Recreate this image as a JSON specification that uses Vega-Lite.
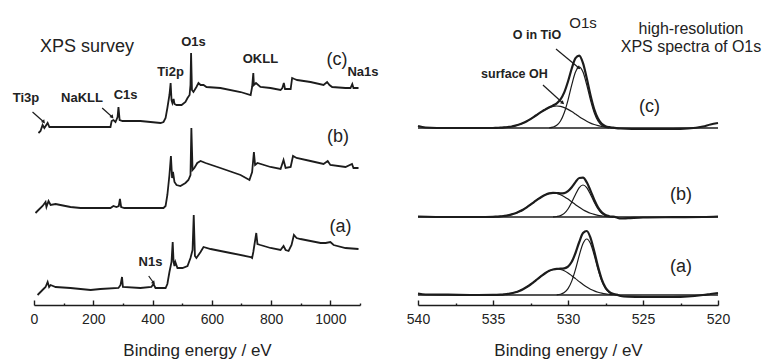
{
"$schema": "https://vega.github.io/schema/vega-lite/v6.json",
"padding": {"left": 12, "top": 5, "right": 5, "bottom": 2},
"config": {"view": {"stroke": null}, "font": "Liberation Sans"},
"bounds": "flush",
"spacing": 58,
"datasets": {
"survey": [
{"s":"c","e":15,"v":172},{"s":"c","e":22,"v":174},{"s":"c","e":29,"v":180},{"s":"c","e":35,"v":177},{"s":"c","e":46,"v":182},{"s":"c","e":52,"v":178},{"s":"c","e":66,"v":178},{"s":"c","e":157,"v":178},{"s":"c","e":224,"v":178},{"s":"c","e":258,"v":178},{"s":"c","e":262,"v":184},{"s":"c","e":268,"v":185},{"s":"c","e":275,"v":183},{"s":"c","e":282,"v":188},{"s":"c","e":285,"v":198},{"s":"c","e":289,"v":185},{"s":"c","e":299,"v":184},{"s":"c","e":359,"v":184},{"s":"c","e":427,"v":182},{"s":"c","e":437,"v":183},{"s":"c","e":444,"v":187},{"s":"c","e":450,"v":197},{"s":"c","e":457,"v":210},{"s":"c","e":461,"v":222},{"s":"c","e":464,"v":205},{"s":"c","e":467,"v":202},{"s":"c","e":471,"v":206},{"s":"c","e":474,"v":201},{"s":"c","e":481,"v":200},{"s":"c","e":498,"v":200},{"s":"c","e":511,"v":203},{"s":"c","e":518,"v":207},{"s":"c","e":525,"v":210},{"s":"c","e":528,"v":220},{"s":"c","e":530,"v":252},{"s":"c","e":533,"v":215},{"s":"c","e":538,"v":213},{"s":"c","e":548,"v":218},{"s":"c","e":555,"v":222},{"s":"c","e":562,"v":220},{"s":"c","e":572,"v":220},{"s":"c","e":582,"v":218},{"s":"c","e":629,"v":217},{"s":"c","e":697,"v":213},{"s":"c","e":731,"v":210},{"s":"c","e":736,"v":218},{"s":"c","e":740,"v":232},{"s":"c","e":742,"v":220},{"s":"c","e":749,"v":222},{"s":"c","e":764,"v":218},{"s":"c","e":798,"v":217},{"s":"c","e":832,"v":215},{"s":"c","e":838,"v":217},{"s":"c","e":843,"v":222},{"s":"c","e":847,"v":216},{"s":"c","e":866,"v":216},{"s":"c","e":871,"v":227},{"s":"c","e":879,"v":226},{"s":"c","e":888,"v":225},{"s":"c","e":933,"v":223},{"s":"c","e":977,"v":220},{"s":"c","e":989,"v":223},{"s":"c","e":997,"v":220},{"s":"c","e":1006,"v":218},{"s":"c","e":1051,"v":217},{"s":"c","e":1068,"v":217},{"s":"c","e":1074,"v":221},{"s":"c","e":1078,"v":217},{"s":"c","e":1095,"v":217},
{"s":"b","e":5,"v":92},{"s":"b","e":15,"v":95},{"s":"b","e":29,"v":99},{"s":"b","e":39,"v":103},{"s":"b","e":42,"v":98},{"s":"b","e":49,"v":104},{"s":"b","e":56,"v":100},{"s":"b","e":73,"v":101},{"s":"b","e":89,"v":100},{"s":"b","e":123,"v":98},{"s":"b","e":157,"v":97},{"s":"b","e":258,"v":97},{"s":"b","e":268,"v":99},{"s":"b","e":278,"v":98},{"s":"b","e":286,"v":99},{"s":"b","e":290,"v":106},{"s":"b","e":294,"v":98},{"s":"b","e":305,"v":97},{"s":"b","e":437,"v":97},{"s":"b","e":444,"v":99},{"s":"b","e":450,"v":110},{"s":"b","e":457,"v":130},{"s":"b","e":462,"v":149},{"s":"b","e":466,"v":127},{"s":"b","e":469,"v":133},{"s":"b","e":474,"v":123},{"s":"b","e":481,"v":120},{"s":"b","e":494,"v":119},{"s":"b","e":511,"v":122},{"s":"b","e":521,"v":125},{"s":"b","e":528,"v":130},{"s":"b","e":531,"v":177},{"s":"b","e":535,"v":135},{"s":"b","e":541,"v":137},{"s":"b","e":551,"v":142},{"s":"b","e":562,"v":144},{"s":"b","e":579,"v":142},{"s":"b","e":629,"v":137},{"s":"b","e":697,"v":130},{"s":"b","e":727,"v":125},{"s":"b","e":736,"v":133},{"s":"b","e":742,"v":153},{"s":"b","e":746,"v":140},{"s":"b","e":754,"v":142},{"s":"b","e":798,"v":138},{"s":"b","e":832,"v":136},{"s":"b","e":842,"v":145},{"s":"b","e":849,"v":137},{"s":"b","e":866,"v":138},{"s":"b","e":874,"v":149},{"s":"b","e":886,"v":147},{"s":"b","e":933,"v":144},{"s":"b","e":977,"v":141},{"s":"b","e":991,"v":144},{"s":"b","e":1000,"v":140},{"s":"b","e":1051,"v":138},{"s":"b","e":1073,"v":141},{"s":"b","e":1078,"v":137},{"s":"b","e":1095,"v":137},
{"s":"a","e":12,"v":10},{"s":"a","e":22,"v":13},{"s":"a","e":32,"v":16},{"s":"a","e":39,"v":18},{"s":"a","e":46,"v":23},{"s":"a","e":51,"v":18},{"s":"a","e":56,"v":20},{"s":"a","e":73,"v":18},{"s":"a","e":123,"v":17},{"s":"a","e":191,"v":15},{"s":"a","e":224,"v":16},{"s":"a","e":285,"v":17},{"s":"a","e":292,"v":20},{"s":"a","e":297,"v":28},{"s":"a","e":300,"v":18},{"s":"a","e":359,"v":17},{"s":"a","e":396,"v":18},{"s":"a","e":403,"v":21},{"s":"a","e":410,"v":17},{"s":"a","e":444,"v":17},{"s":"a","e":450,"v":21},{"s":"a","e":457,"v":33},{"s":"a","e":464,"v":43},{"s":"a","e":468,"v":63},{"s":"a","e":471,"v":43},{"s":"a","e":474,"v":39},{"s":"a","e":477,"v":43},{"s":"a","e":484,"v":37},{"s":"a","e":501,"v":37},{"s":"a","e":518,"v":39},{"s":"a","e":528,"v":47},{"s":"a","e":535,"v":55},{"s":"a","e":539,"v":90},{"s":"a","e":543,"v":49},{"s":"a","e":548,"v":47},{"s":"a","e":562,"v":53},{"s":"a","e":572,"v":58},{"s":"a","e":596,"v":56},{"s":"a","e":663,"v":52},{"s":"a","e":731,"v":48},{"s":"a","e":736,"v":47},{"s":"a","e":740,"v":53},{"s":"a","e":750,"v":72},{"s":"a","e":754,"v":61},{"s":"a","e":764,"v":60},{"s":"a","e":798,"v":57},{"s":"a","e":832,"v":55},{"s":"a","e":842,"v":59},{"s":"a","e":849,"v":55},{"s":"a","e":859,"v":54},{"s":"a","e":869,"v":60},{"s":"a","e":877,"v":70},{"s":"a","e":886,"v":67},{"s":"a","e":899,"v":66},{"s":"a","e":967,"v":62},{"s":"a","e":984,"v":62},{"s":"a","e":1000,"v":63},{"s":"a","e":1011,"v":60},{"s":"a","e":1051,"v":57},{"s":"a","e":1095,"v":56}
],
"hr": [
{"s":"c","c":"bg","e":540,"v":177},{"s":"c","c":"bg","e":520,"v":177},
{"s":"b","c":"bg","e":540,"v":88},{"s":"b","c":"bg","e":520,"v":88},
{"s":"a","c":"bg","e":540,"v":10},{"s":"a","c":"bg","e":520,"v":10},
{"s":"c","c":"env","e":540,"v":179},{"s":"c","c":"env","e":539.5,"v":177.5},{"s":"c","c":"env","e":538,"v":177},{"s":"c","c":"env","e":536,"v":177},{"s":"c","c":"env","e":535,"v":177},{"s":"c","c":"env","e":534.75,"v":177.2},{"s":"c","c":"env","e":534.5,"v":177.3},{"s":"c","c":"env","e":534.25,"v":177.6},{"s":"c","c":"env","e":534,"v":178},{"s":"c","c":"env","e":533.75,"v":178.5},{"s":"c","c":"env","e":533.5,"v":179.4},{"s":"c","c":"env","e":533.25,"v":180.5},{"s":"c","c":"env","e":533,"v":181.9},{"s":"c","c":"env","e":532.75,"v":183.7},{"s":"c","c":"env","e":532.5,"v":185.9},{"s":"c","c":"env","e":532.25,"v":188.3},{"s":"c","c":"env","e":532,"v":190.9},{"s":"c","c":"env","e":531.75,"v":193.4},{"s":"c","c":"env","e":531.5,"v":195.6},{"s":"c","c":"env","e":531.25,"v":197.7},{"s":"c","c":"env","e":531,"v":199.5},{"s":"c","c":"env","e":530.75,"v":201.7},{"s":"c","c":"env","e":530.5,"v":205.6},{"s":"c","c":"env","e":530.25,"v":212.6},{"s":"c","c":"env","e":530,"v":223.5},{"s":"c","c":"env","e":529.75,"v":236.5},{"s":"c","c":"env","e":529.5,"v":246.8},{"s":"c","c":"env","e":529.25,"v":249.3},{"s":"c","c":"env","e":529,"v":241.8},{"s":"c","c":"env","e":528.75,"v":226.8},{"s":"c","c":"env","e":528.5,"v":209.8},{"s":"c","c":"env","e":528.25,"v":195.7},{"s":"c","c":"env","e":528,"v":186.4},{"s":"c","c":"env","e":527.75,"v":181.2},{"s":"c","c":"env","e":527.5,"v":178.8},{"s":"c","c":"env","e":527.25,"v":177.8},{"s":"c","c":"env","e":527,"v":177.3},{"s":"c","c":"env","e":526.5,"v":176.5},{"s":"c","c":"env","e":525,"v":176},{"s":"c","c":"env","e":523,"v":176},{"s":"c","c":"env","e":522,"v":176.5},{"s":"c","c":"env","e":521,"v":178.5},{"s":"c","c":"env","e":520.5,"v":180.5},{"s":"c","c":"env","e":520,"v":182},
{"s":"c","c":"OH","e":534.75,"v":177.2},{"s":"c","c":"OH","e":534.5,"v":177.3},{"s":"c","c":"OH","e":534.25,"v":177.6},{"s":"c","c":"OH","e":534,"v":178},{"s":"c","c":"OH","e":533.75,"v":178.5},{"s":"c","c":"OH","e":533.5,"v":179.4},{"s":"c","c":"OH","e":533.25,"v":180.5},{"s":"c","c":"OH","e":533,"v":181.9},{"s":"c","c":"OH","e":532.75,"v":183.7},{"s":"c","c":"OH","e":532.5,"v":185.9},{"s":"c","c":"OH","e":532.25,"v":188.3},{"s":"c","c":"OH","e":532,"v":190.9},{"s":"c","c":"OH","e":531.75,"v":193.4},{"s":"c","c":"OH","e":531.5,"v":195.6},{"s":"c","c":"OH","e":531.25,"v":197.4},{"s":"c","c":"OH","e":531,"v":198.6},{"s":"c","c":"OH","e":530.75,"v":199},{"s":"c","c":"OH","e":530.5,"v":198.6},{"s":"c","c":"OH","e":530.25,"v":197.4},{"s":"c","c":"OH","e":530,"v":195.6},{"s":"c","c":"OH","e":529.75,"v":193.4},{"s":"c","c":"OH","e":529.5,"v":190.9},{"s":"c","c":"OH","e":529.25,"v":188.3},{"s":"c","c":"OH","e":529,"v":185.9},{"s":"c","c":"OH","e":528.75,"v":183.7},{"s":"c","c":"OH","e":528.5,"v":181.9},{"s":"c","c":"OH","e":528.25,"v":180.5},{"s":"c","c":"OH","e":528,"v":179.4},{"s":"c","c":"OH","e":527.75,"v":178.5},{"s":"c","c":"OH","e":527.5,"v":178},{"s":"c","c":"OH","e":527.25,"v":177.6},{"s":"c","c":"OH","e":527,"v":177.3},{"s":"c","c":"OH","e":526.75,"v":177.2},
{"s":"c","c":"TiO","e":531.25,"v":177.2},{"s":"c","c":"TiO","e":531,"v":177.9},{"s":"c","c":"TiO","e":530.75,"v":179.7},{"s":"c","c":"TiO","e":530.5,"v":184},{"s":"c","c":"TiO","e":530.25,"v":192.2},{"s":"c","c":"TiO","e":530,"v":204.9},{"s":"c","c":"TiO","e":529.75,"v":220.1},{"s":"c","c":"TiO","e":529.5,"v":232.9},{"s":"c","c":"TiO","e":529.25,"v":238},{"s":"c","c":"TiO","e":529,"v":232.9},{"s":"c","c":"TiO","e":528.75,"v":220.1},{"s":"c","c":"TiO","e":528.5,"v":204.9},{"s":"c","c":"TiO","e":528.25,"v":192.2},{"s":"c","c":"TiO","e":528,"v":184},{"s":"c","c":"TiO","e":527.75,"v":179.7},{"s":"c","c":"TiO","e":527.5,"v":177.9},{"s":"c","c":"TiO","e":527.25,"v":177.2},
{"s":"b","c":"env","e":540,"v":88.5},{"s":"b","c":"env","e":538,"v":88},{"s":"b","c":"env","e":536,"v":88},{"s":"b","c":"env","e":535,"v":88.2},{"s":"b","c":"env","e":534.75,"v":88.4},{"s":"b","c":"env","e":534.5,"v":88.6},{"s":"b","c":"env","e":534.25,"v":89.1},{"s":"b","c":"env","e":534,"v":89.7},{"s":"b","c":"env","e":533.75,"v":90.6},{"s":"b","c":"env","e":533.5,"v":91.8},{"s":"b","c":"env","e":533.25,"v":93.4},{"s":"b","c":"env","e":533,"v":95.3},{"s":"b","c":"env","e":532.75,"v":97.7},{"s":"b","c":"env","e":532.5,"v":100.3},{"s":"b","c":"env","e":532.25,"v":103.1},{"s":"b","c":"env","e":532,"v":105.9},{"s":"b","c":"env","e":531.75,"v":108.3},{"s":"b","c":"env","e":531.5,"v":110.3},{"s":"b","c":"env","e":531.25,"v":111.6},{"s":"b","c":"env","e":531,"v":112.1},{"s":"b","c":"env","e":530.75,"v":112},{"s":"b","c":"env","e":530.5,"v":111.7},{"s":"b","c":"env","e":530.25,"v":111.9},{"s":"b","c":"env","e":530,"v":113.9},{"s":"b","c":"env","e":529.75,"v":117.8},{"s":"b","c":"env","e":529.5,"v":122.9},{"s":"b","c":"env","e":529.25,"v":127},{"s":"b","c":"env","e":529,"v":127.3},{"s":"b","c":"env","e":528.75,"v":122.7},{"s":"b","c":"env","e":528.5,"v":114.4},{"s":"b","c":"env","e":528.25,"v":105.3},{"s":"b","c":"env","e":528,"v":97.7},{"s":"b","c":"env","e":527.75,"v":92.7},{"s":"b","c":"env","e":527.5,"v":90},{"s":"b","c":"env","e":527.25,"v":88.8},{"s":"b","c":"env","e":527,"v":88.3},{"s":"b","c":"env","e":526.75,"v":87.5},{"s":"b","c":"env","e":526.5,"v":86.5},{"s":"b","c":"env","e":526,"v":86.8},{"s":"b","c":"env","e":525,"v":87.5},{"s":"b","c":"env","e":523,"v":87.8},{"s":"b","c":"env","e":521,"v":88},{"s":"b","c":"env","e":520,"v":88.5},
{"s":"b","c":"OH","e":535,"v":88.2},{"s":"b","c":"OH","e":534.75,"v":88.4},{"s":"b","c":"OH","e":534.5,"v":88.6},{"s":"b","c":"OH","e":534.25,"v":89.1},{"s":"b","c":"OH","e":534,"v":89.7},{"s":"b","c":"OH","e":533.75,"v":90.6},{"s":"b","c":"OH","e":533.5,"v":91.8},{"s":"b","c":"OH","e":533.25,"v":93.4},{"s":"b","c":"OH","e":533,"v":95.3},{"s":"b","c":"OH","e":532.75,"v":97.7},{"s":"b","c":"OH","e":532.5,"v":100.3},{"s":"b","c":"OH","e":532.25,"v":103.1},{"s":"b","c":"OH","e":532,"v":105.9},{"s":"b","c":"OH","e":531.75,"v":108.3},{"s":"b","c":"OH","e":531.5,"v":110.3},{"s":"b","c":"OH","e":531.25,"v":111.6},{"s":"b","c":"OH","e":531,"v":112},{"s":"b","c":"OH","e":530.75,"v":111.6},{"s":"b","c":"OH","e":530.5,"v":110.3},{"s":"b","c":"OH","e":530.25,"v":108.3},{"s":"b","c":"OH","e":530,"v":105.9},{"s":"b","c":"OH","e":529.75,"v":103.1},{"s":"b","c":"OH","e":529.5,"v":100.3},{"s":"b","c":"OH","e":529.25,"v":97.7},{"s":"b","c":"OH","e":529,"v":95.3},{"s":"b","c":"OH","e":528.75,"v":93.4},{"s":"b","c":"OH","e":528.5,"v":91.8},{"s":"b","c":"OH","e":528.25,"v":90.6},{"s":"b","c":"OH","e":528,"v":89.7},{"s":"b","c":"OH","e":527.75,"v":89.1},{"s":"b","c":"OH","e":527.5,"v":88.6},{"s":"b","c":"OH","e":527.25,"v":88.4},{"s":"b","c":"OH","e":527,"v":88.2},
{"s":"b","c":"TiO","e":531,"v":88.1},{"s":"b","c":"TiO","e":530.75,"v":88.5},{"s":"b","c":"TiO","e":530.5,"v":89.4},{"s":"b","c":"TiO","e":530.25,"v":91.6},{"s":"b","c":"TiO","e":530,"v":96},{"s":"b","c":"TiO","e":529.75,"v":102.7},{"s":"b","c":"TiO","e":529.5,"v":110.6},{"s":"b","c":"TiO","e":529.25,"v":117.3},{"s":"b","c":"TiO","e":529,"v":120},{"s":"b","c":"TiO","e":528.75,"v":117.3},{"s":"b","c":"TiO","e":528.5,"v":110.6},{"s":"b","c":"TiO","e":528.25,"v":102.7},{"s":"b","c":"TiO","e":528,"v":96},{"s":"b","c":"TiO","e":527.75,"v":91.6},{"s":"b","c":"TiO","e":527.5,"v":89.4},{"s":"b","c":"TiO","e":527.25,"v":88.5},{"s":"b","c":"TiO","e":527,"v":88.1},
{"s":"a","c":"env","e":540,"v":11.5},{"s":"a","c":"env","e":539.5,"v":10.5},{"s":"a","c":"env","e":538,"v":10.3},{"s":"a","c":"env","e":536,"v":10},{"s":"a","c":"env","e":535,"v":10.1},{"s":"a","c":"env","e":534.75,"v":10.2},{"s":"a","c":"env","e":534.5,"v":10.4},{"s":"a","c":"env","e":534.25,"v":10.7},{"s":"a","c":"env","e":534,"v":11.1},{"s":"a","c":"env","e":533.75,"v":11.8},{"s":"a","c":"env","e":533.5,"v":12.8},{"s":"a","c":"env","e":533.25,"v":14.1},{"s":"a","c":"env","e":533,"v":15.8},{"s":"a","c":"env","e":532.75,"v":18},{"s":"a","c":"env","e":532.5,"v":20.5},{"s":"a","c":"env","e":532.25,"v":23.4},{"s":"a","c":"env","e":532,"v":26.4},{"s":"a","c":"env","e":531.75,"v":29.3},{"s":"a","c":"env","e":531.5,"v":32},{"s":"a","c":"env","e":531.25,"v":34.2},{"s":"a","c":"env","e":531,"v":35.5},{"s":"a","c":"env","e":530.75,"v":36.2},{"s":"a","c":"env","e":530.5,"v":36.3},{"s":"a","c":"env","e":530.25,"v":36.7},{"s":"a","c":"env","e":530,"v":38.4},{"s":"a","c":"env","e":529.75,"v":43.2},{"s":"a","c":"env","e":529.5,"v":52},{"s":"a","c":"env","e":529.25,"v":63},{"s":"a","c":"env","e":529,"v":71.9},{"s":"a","c":"env","e":528.75,"v":74},{"s":"a","c":"env","e":528.5,"v":67.2},{"s":"a","c":"env","e":528.25,"v":53.7},{"s":"a","c":"env","e":528,"v":38.4},{"s":"a","c":"env","e":527.75,"v":25.7},{"s":"a","c":"env","e":527.5,"v":17.5},{"s":"a","c":"env","e":527.25,"v":13.2},{"s":"a","c":"env","e":527,"v":11.2},{"s":"a","c":"env","e":526.75,"v":10.4},{"s":"a","c":"env","e":526.5,"v":9},{"s":"a","c":"env","e":526,"v":8.3},{"s":"a","c":"env","e":525,"v":8},{"s":"a","c":"env","e":523,"v":8},{"s":"a","c":"env","e":522,"v":8.5},{"s":"a","c":"env","e":521,"v":10},{"s":"a","c":"env","e":520.5,"v":11},{"s":"a","c":"env","e":520,"v":12},
{"s":"a","c":"OH","e":534.75,"v":10.2},{"s":"a","c":"OH","e":534.5,"v":10.4},{"s":"a","c":"OH","e":534.25,"v":10.7},{"s":"a","c":"OH","e":534,"v":11.1},{"s":"a","c":"OH","e":533.75,"v":11.8},{"s":"a","c":"OH","e":533.5,"v":12.8},{"s":"a","c":"OH","e":533.25,"v":14.1},{"s":"a","c":"OH","e":533,"v":15.8},{"s":"a","c":"OH","e":532.75,"v":18},{"s":"a","c":"OH","e":532.5,"v":20.5},{"s":"a","c":"OH","e":532.25,"v":23.4},{"s":"a","c":"OH","e":532,"v":26.4},{"s":"a","c":"OH","e":531.75,"v":29.3},{"s":"a","c":"OH","e":531.5,"v":32},{"s":"a","c":"OH","e":531.25,"v":34.2},{"s":"a","c":"OH","e":531,"v":35.5},{"s":"a","c":"OH","e":530.75,"v":36},{"s":"a","c":"OH","e":530.5,"v":35.5},{"s":"a","c":"OH","e":530.25,"v":34.2},{"s":"a","c":"OH","e":530,"v":32},{"s":"a","c":"OH","e":529.75,"v":29.3},{"s":"a","c":"OH","e":529.5,"v":26.4},{"s":"a","c":"OH","e":529.25,"v":23.4},{"s":"a","c":"OH","e":529,"v":20.5},{"s":"a","c":"OH","e":528.75,"v":18},{"s":"a","c":"OH","e":528.5,"v":15.8},{"s":"a","c":"OH","e":528.25,"v":14.1},{"s":"a","c":"OH","e":528,"v":12.8},{"s":"a","c":"OH","e":527.75,"v":11.8},{"s":"a","c":"OH","e":527.5,"v":11.1},{"s":"a","c":"OH","e":527.25,"v":10.7},{"s":"a","c":"OH","e":527,"v":10.4},{"s":"a","c":"OH","e":526.75,"v":10.2},
{"s":"a","c":"TiO","e":530.75,"v":10.2},{"s":"a","c":"TiO","e":530.5,"v":10.8},{"s":"a","c":"TiO","e":530.25,"v":12.5},{"s":"a","c":"TiO","e":530,"v":16.4},{"s":"a","c":"TiO","e":529.75,"v":23.9},{"s":"a","c":"TiO","e":529.5,"v":35.6},{"s":"a","c":"TiO","e":529.25,"v":49.6},{"s":"a","c":"TiO","e":529,"v":61.4},{"s":"a","c":"TiO","e":528.75,"v":66},{"s":"a","c":"TiO","e":528.5,"v":61.4},{"s":"a","c":"TiO","e":528.25,"v":49.6},{"s":"a","c":"TiO","e":528,"v":35.6},{"s":"a","c":"TiO","e":527.75,"v":23.9},{"s":"a","c":"TiO","e":527.5,"v":16.4},{"s":"a","c":"TiO","e":527.25,"v":12.5},{"s":"a","c":"TiO","e":527,"v":10.8},{"s":"a","c":"TiO","e":526.75,"v":10.2}
],
"leftBig": [{"t":"XPS survey","e":178.8,"v":258},{"t":"(c)","e":1022,"v":245},{"t":"(b)","e":1026,"v":168},{"t":"(a)","e":1034,"v":78}],
"leftPeaks": [{"t":"O1s","e":538,"v":263},{"t":"OKLL","e":764,"v":246},{"t":"Ti2p","e":461,"v":233},{"t":"Na1s","e":1110,"v":233},{"t":"Ti3p","e":-27,"v":207},{"t":"NaKLL","e":162,"v":207},{"t":"C1s","e":309,"v":210},{"t":"N1s","e":393,"v":43}],
"leftArrows": [{"e":33,"v":183,"e2":-5,"v2":193},{"e":264,"v":188,"e2":230,"v2":197},{"e":404,"v":22,"e2":387,"v2":29}],
"rightArrows": [{"e":529.27,"v":237,"e2":530.8,"v2":256},{"e":530.35,"v":202,"e2":531.67,"v2":220}],
"rightSmall": [{"t":"O in TiO","e":532.07,"v":270},{"t":"surface OH","e":533.57,"v":231}],
"rightO1s": [{"t":"O1s","e":529.0,"v":282}],
"rightTitle": [{"t":"high-resolution","e":521.8,"v":276},{"t":"XPS spectra of O1s","e":521.8,"v":258}],
"rightBig": [{"t":"(c)","e":524.57,"v":198},{"t":"(b)","e":522.47,"v":110},{"t":"(a)","e":522.47,"v":38}]
},
"hconcat": [
{
"width": 326, "height": 300,
"encoding": {
"x": {"field": "e", "type": "quantitative", "scale": {"domain": [0, 1100], "nice": false, "zero": false},
"axis": {"title": "Binding energy / eV", "values": [0,100,200,300,400,500,600,700,800,900,1000,1100],
"labelExpr": "datum.value % 200 === 0 ? format(datum.value, 'd') : ''",
"tickSize": {"condition": {"test": "datum.value % 200 === 0", "value": -5}, "value": -2},
"grid": false, "domainColor": "#1c1c1c", "domainWidth": 1.6, "tickColor": "#1c1c1c", "tickWidth": 1.4,
"labelFontSize": 14, "labelColor": "#222", "labelPadding": 12, "labelFlush": false, "labelOverlap": false,
"titleFontSize": 17, "titleFontWeight": "normal", "titleColor": "#222", "titlePadding": 13}},
"y": {"field": "v", "type": "quantitative", "scale": {"domain": [0, 300], "nice": false, "zero": false}, "axis": null}
},
"layer": [
{"data": {"name": "survey"}, "mark": {"type": "line", "color": "#1c1c1c", "strokeWidth": 1.8}, "encoding": {"detail": {"field": "s"}}},
{"data": {"name": "leftArrows"}, "mark": {"type": "rule", "color": "#1c1c1c", "strokeWidth": 1.2}, "encoding": {"x2": {"field": "e2"}, "y2": {"field": "v2"}}},
{"data": {"name": "leftArrows"}, "mark": {"type": "point", "shape": "triangle-up", "filled": true, "size": 18, "angle": 140, "color": "#1c1c1c", "opacity": 1}},
{"data": {"name": "leftBig"}, "mark": {"type": "text", "fontSize": 18, "color": "#222", "align": "center", "baseline": "middle"}, "encoding": {"text": {"field": "t"}}},
{"data": {"name": "leftPeaks"}, "mark": {"type": "text", "fontSize": 13, "fontWeight": "bold", "color": "#222", "align": "center", "baseline": "middle"}, "encoding": {"text": {"field": "t"}}}
]
},
{
"width": 300, "height": 300,
"encoding": {
"x": {"field": "e", "type": "quantitative", "scale": {"domain": [520, 540], "reverse": true, "nice": false, "zero": false},
"axis": {"title": "Binding energy / eV", "values": [520,522.5,525,527.5,530,532.5,535,537.5,540],
"labelExpr": "datum.value % 5 === 0 ? format(datum.value, 'd') : ''",
"tickSize": {"condition": {"test": "datum.value % 5 === 0", "value": -5}, "value": -2},
"grid": false, "domainColor": "#1c1c1c", "domainWidth": 1.6, "tickColor": "#1c1c1c", "tickWidth": 1.4,
"labelFontSize": 14, "labelColor": "#222", "labelPadding": 12, "labelFlush": false, "labelOverlap": false,
"titleFontSize": 17, "titleFontWeight": "normal", "titleColor": "#222", "titlePadding": 13}},
"y": {"field": "v", "type": "quantitative", "scale": {"domain": [0, 300], "nice": false, "zero": false}, "axis": null}
},
"layer": [
{"data": {"name": "hr"}, "transform": [{"filter": "datum.c === 'bg'"}], "mark": {"type": "line", "color": "#1c1c1c", "strokeWidth": 1.4}, "encoding": {"detail": {"field": "s"}}},
{"data": {"name": "hr"}, "transform": [{"filter": "datum.c === 'OH' || datum.c === 'TiO'"}], "mark": {"type": "line", "color": "#1c1c1c", "strokeWidth": 1.2, "interpolate": "monotone"}, "encoding": {"detail": [{"field": "s"}, {"field": "c"}]}},
{"data": {"name": "hr"}, "transform": [{"filter": "datum.c === 'env'"}], "mark": {"type": "line", "color": "#1c1c1c", "strokeWidth": 2.2, "interpolate": "monotone"}, "encoding": {"detail": {"field": "s"}}},
{"data": {"name": "rightArrows"}, "mark": {"type": "rule", "color": "#1c1c1c", "strokeWidth": 1.2}, "encoding": {"x2": {"field": "e2"}, "y2": {"field": "v2"}}},
{"data": {"name": "rightArrows"}, "mark": {"type": "point", "shape": "triangle-up", "filled": true, "size": 18, "angle": 132, "color": "#1c1c1c", "opacity": 1}},
{"data": {"name": "rightSmall"}, "mark": {"type": "text", "fontSize": 12.5, "fontWeight": "bold", "color": "#222", "align": "center", "baseline": "middle"}, "encoding": {"text": {"field": "t"}}},
{"data": {"name": "rightO1s"}, "mark": {"type": "text", "fontSize": 15, "color": "#222", "align": "center", "baseline": "middle"}, "encoding": {"text": {"field": "t"}}},
{"data": {"name": "rightTitle"}, "mark": {"type": "text", "fontSize": 16, "color": "#222", "align": "center", "baseline": "middle"}, "encoding": {"text": {"field": "t"}}},
{"data": {"name": "rightBig"}, "mark": {"type": "text", "fontSize": 18, "color": "#222", "align": "center", "baseline": "middle"}, "encoding": {"text": {"field": "t"}}}
]
}
]
}
